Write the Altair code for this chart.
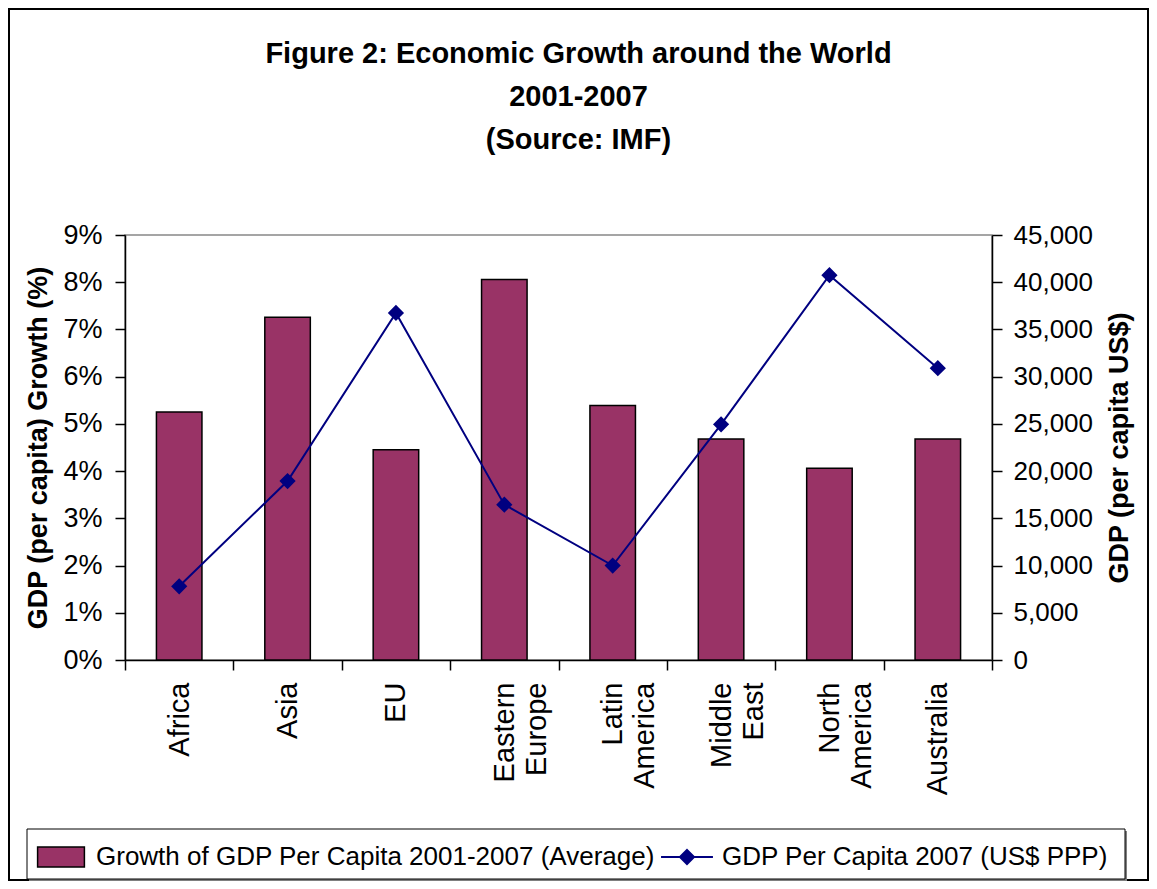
import altair as alt
import pandas as pd

regions = ["Africa", "Asia", "EU", "Eastern Europe", "Latin America",
           "Middle East", "North America", "Australia"]
growth = [5.25, 7.26, 4.45, 8.06, 5.39, 4.68, 4.06, 4.68]
gdp = [7800, 18950, 36750, 16450, 10000, 24950, 40750, 30900]

S1 = "Growth of GDP Per Capita 2001-2007 (Average)"
S2 = "GDP Per Capita 2007 (US$ PPP)"
left_ticks = list(range(0, 10))
right_ticks = list(range(0, 45001, 5000))
title_lines = ["Figure 2: Economic Growth around the World", "2001-2007", "(Source: IMF)"]

FONT = "Liberation Sans"
BAR_COLOR = "#993366"
LINE_COLOR = "#000080"

bar_df = pd.DataFrame({"region": regions, "growth": growth, "series": S1})
line_df = pd.DataFrame({"region": regions, "gdp": gdp, "series": S2})
one_df = pd.DataFrame({"a": [0]})

bar_path = "M-1.56,-0.67H1.56V0.67H-1.56Z"
line_path = "M-1.73,0H1.73M0,-0.47L0.47,0L0,0.47L-0.47,0Z"

common_legend = dict(
    title=None, orient="none", direction="horizontal",
    labelFont=FONT, labelFontSize=26, labelColor="black", labelLimit=0,
    padding=0, labelOffset=19, symbolSize=900, legendY=606,
)

bar_legend = alt.Legend(legendX=-80, symbolType=bar_path,
                        symbolStrokeColor="black", symbolStrokeWidth=1.5,
                        **common_legend)
line_legend = alt.Legend(legendX=546, symbolType=line_path,
                         symbolFillColor=LINE_COLOR, symbolStrokeWidth=2,
                         **common_legend)

x_axis = alt.Axis(
    title=None, labelAngle=270, labelExpr="split(datum.label, ' ')",
    labelFont=FONT, labelFontSize=29, labelLineHeight=32, labelPadding=12,
    tickBand="extent", tickSize=10, labelOverlap=False, labelFlush=False,
)

x_enc = alt.X("region:N", sort=regions,
              scale=alt.Scale(paddingInner=0, paddingOuter=0), axis=x_axis)

frame = alt.Chart(one_df).mark_rect(filled=False, stroke="black", strokeWidth=2).encode(
    x=alt.value(-116), x2=alt.value(1023), y=alt.value(-226), y2=alt.value(645)
)
box_shadow = alt.Chart(one_df).mark_rect(fill="#808080").encode(
    x=alt.value(-96), x2=alt.value(1002), y=alt.value(596), y2=alt.value(647)
)
box = alt.Chart(one_df).mark_rect(fill="white", stroke="black", strokeWidth=1).encode(
    x=alt.value(-98), x2=alt.value(1000), y=alt.value(594), y2=alt.value(644)
)

bars = alt.Chart(bar_df).mark_bar(
    width=alt.RelativeBandSize(0.42), stroke="black", strokeWidth=1.5
).encode(
    x=x_enc,
    y=alt.Y("growth:Q", scale=alt.Scale(domain=[0, 9], nice=False),
            axis=alt.Axis(values=left_ticks, labelExpr="datum.value + '%'",
                          title="GDP (per capita) Growth (%)", titleFont=FONT,
                          titleFontSize=27, titleFontWeight="bold", titlePadding=10,
                          labelFont=FONT, labelFontSize=27, tickSize=10,
                          labelPadding=13, grid=False)),
    fill=alt.Fill("series:N", scale=alt.Scale(domain=[S1], range=[BAR_COLOR]),
                  legend=bar_legend),
)

line = alt.Chart(line_df).mark_line(
    strokeWidth=2,
    point=alt.OverlayMarkDef(shape="diamond", size=180, filled=True, fill=LINE_COLOR),
).encode(
    x=x_enc,
    y=alt.Y("gdp:Q", scale=alt.Scale(domain=[0, 45000], nice=False),
            axis=alt.Axis(orient="right", values=right_ticks, format=",.0f",
                          title="GDP (per capita US$)", titleAngle=270,
                          titleBaseline="top",
                          titleFont=FONT, titleFontSize=27, titleFontWeight="bold",
                          titlePadding=14, labelFont=FONT, labelFontSize=26,
                          tickSize=10, labelPadding=11, grid=False)),
    stroke=alt.Stroke("series:N", scale=alt.Scale(domain=[S2], range=[LINE_COLOR]),
                      legend=line_legend),
)

chart = alt.layer(frame, box_shadow, box, bars, line).resolve_scale(y="independent").properties(
    width=867, height=425,
    autosize=alt.AutoSizeParams(type="none"),
    padding={"left": 117, "top": 227, "right": 157, "bottom": 221},
    title=alt.TitleParams(text=title_lines, font=FONT, fontSize=29, fontWeight="bold",
                          color="black", lineHeight=43, anchor="middle", dx=20,
                          offset=-147),
).configure_view(
    stroke="#888888", strokeWidth=1.5
).configure_axis(
    domainColor="black", domainWidth=1.5, tickColor="black", tickWidth=1.5,
    labelColor="black", titleColor="black"
)

chart.save("out.html", embed_options={"renderer": "svg", "actions": False})
